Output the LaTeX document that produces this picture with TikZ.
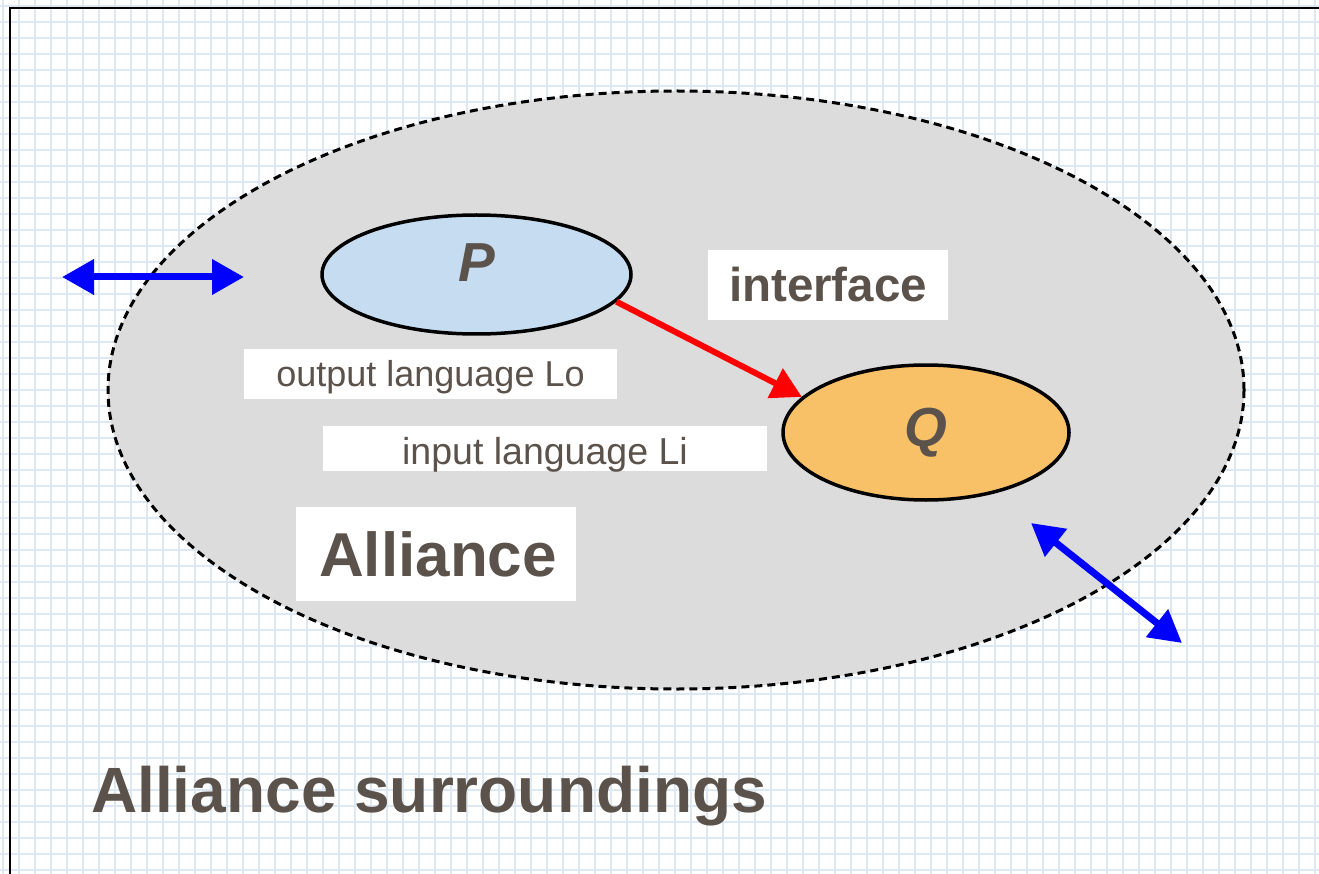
\documentclass[tikz,border=0pt]{standalone}
\usepackage{fontspec}
\setmainfont{Liberation Sans}
\usetikzlibrary{shapes.geometric,arrows.meta}
\definecolor{gridblue}{HTML}{DDE8F5}
\definecolor{alliancegray}{HTML}{DCDCDC}
\definecolor{pblue}{HTML}{C6DCF0}
\definecolor{qorange}{HTML}{F8C067}
\definecolor{txt}{HTML}{5B534B}
\tikzset{
  gridline/.style={draw=gridblue, line width=2pt},
  ell/.style={ellipse, draw=black, line width=3.5pt, inner sep=0pt, text=txt,
    font=\fontsize{55}{66}\selectfont\bfseries\itshape},
  whitebox/.style={rectangle, fill=white, inner sep=0pt, text=txt},
  bluearrow/.style={draw=blue, line width=7pt, {Triangle[length=32pt,width=34pt]}-{Triangle[length=32pt,width=34pt]}},
  redarrow/.style={draw=red, line width=6pt, -{Triangle[length=30pt,width=32pt]}},
}
\begin{document}
\begin{tikzpicture}[x=1pt,y=-1pt]
\useasboundingbox (0,0) rectangle (1319,874);
\fill[white] (0,0) rectangle (1319,874);
% grid
\foreach \i in {0,...,82} { \draw[gridline] (3+16*\i,0) -- (3+16*\i,874); }
\foreach \j in {0,...,54} { \draw[gridline] (0,6+16*\j) -- (1319,6+16*\j); }
% frame
\draw[black, line width=2pt] (10,874) -- (10,8) -- (1319,8);
% alliance ellipse
\node[ellipse, fill=alliancegray, draw=black, line width=3pt, dash pattern=on 8pt off 5pt,
  minimum width=1136pt, minimum height=598pt, inner sep=0pt] (alliance) at (676,390) {};
% P and Q
\node[ell, fill=pblue, minimum width=309pt, minimum height=119pt, text height=39.4pt, text depth=26pt] (P) at (476.5,274.5) {P};
\node[ell, fill=qorange, minimum width=286pt, minimum height=135pt] (Q) at (926,432.5) {Q};
% labels
\node[whitebox, minimum width=240pt, minimum height=70pt, font=\fontsize{47.5}{56}\selectfont\bfseries] (iface) at (828,285) {interface};
\node[whitebox, minimum width=373pt, minimum height=50pt, font=\fontsize{36}{42}\selectfont, text height=32pt, text depth=7.4pt] (lo) at (430.5,374) {output language Lo};
\node[whitebox, minimum width=444pt, minimum height=41pt, font=\fontsize{37.5}{44}\selectfont, text height=38pt, text depth=6.8pt] (li) at (545,448.5) {input language Li};
\node[whitebox, minimum width=280pt, minimum height=94pt, font=\fontsize{62}{72}\selectfont\bfseries] (alabel) at (436,554) {\hspace*{4pt}Alliance};
\node[anchor=base west, inner sep=0pt, text=txt, font=\fontsize{64}{76}\selectfont\bfseries] (surr) at (91,812) {Alliance surroundings};
% arrows
\draw[redarrow] (P.-11) -- (Q.164);
\coordinate (hl) at (62,277);
\coordinate (hr) at (244,277);
\coordinate (dl) at (1031,523);
\coordinate (dr) at (1182,643);
\draw[bluearrow] (hl) -- (hr);
\draw[bluearrow] (dl) -- (dr);
\end{tikzpicture}
\end{document}
